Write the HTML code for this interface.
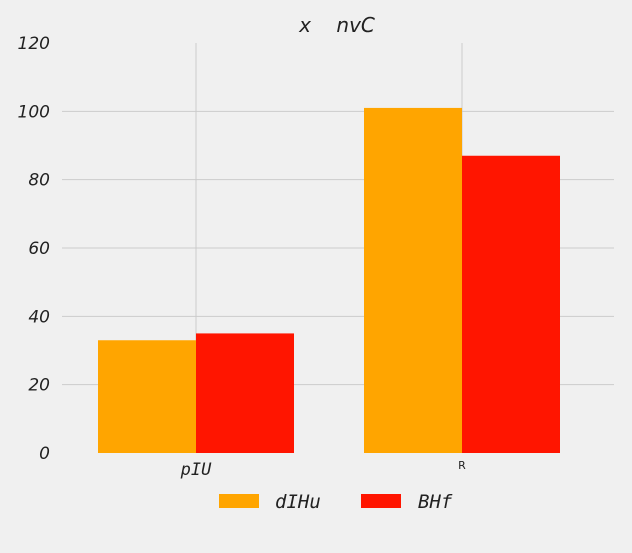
<!DOCTYPE html>
<html><head><meta charset="utf-8"><style>
body{margin:0;background:#f0f0f0;}
svg{display:block;}
</style></head><body>
<svg id="chart" width="632" height="553" xmlns="http://www.w3.org/2000/svg">
<rect width="632" height="553" fill="#f0f0f0"/>
<text x="337" y="32" text-anchor="middle" font-family="DejaVu Sans, sans-serif" font-style="italic" font-size="20" fill="#222" xml:space="preserve">x    nvC</text>
<g id="grid"></g><g id="bars"></g><g id="labels"></g>
<g>
<rect x="219" y="494" width="40" height="14" fill="#ffa500"/>
<text x="275" y="508" font-family="DejaVu Sans Mono, monospace" font-style="italic" font-size="19" fill="#222">dIHu</text>
<rect x="361" y="494" width="40" height="14" fill="#ff1500"/>
<text x="418" y="508" font-family="DejaVu Sans Mono, monospace" font-style="italic" font-size="19" fill="#222">BHf</text>
</g>
</svg>
<script>
const categories = ["pIU", "R"];
const seriesDIHu = [33, 101];
const seriesBHf = [35, 87];
const yTicks = [0, 20, 40, 60, 80, 100, 120];
const NS = "http://www.w3.org/2000/svg";
const x0 = 62, x1 = 614, yBase = 453, yTop = 43, yMax = 120;
function y(v){ return yBase - v/yMax*(yBase-yTop); }
function xc(i){ return 196 + i*266; }
const barW = 98;
function mk(tag, attrs, parent){ const e=document.createElementNS(NS,tag); for(const k in attrs) e.setAttribute(k,attrs[k]); document.getElementById(parent).appendChild(e); return e; }
yTicks.forEach((t,k)=>{
  if(k>0 && k<yTicks.length-1){
    const l = mk("line",{x1:x0,x2:x1,y1:y(t),y2:y(t),stroke:"#cbcbcb","stroke-width":1},"grid");
    
    
  }
  const tx = mk("text",{x:50,y:y(t)+6,"text-anchor":"end","font-family":"DejaVu Sans, sans-serif","font-style":"italic","font-size":"17",fill:"#222"},"labels");
  tx.textContent = t;
  
  
});
categories.forEach((c,i)=>{
  const l = mk("line",{x1:xc(i),x2:xc(i),y1:yTop,y2:yBase,stroke:"#cbcbcb","stroke-width":1},"grid");
  
  
  const a = mk("rect",{x:xc(i)-barW,y:y(seriesDIHu[i]),width:barW,height:yBase-y(seriesDIHu[i]),fill:"#ffa500"},"bars");
  
  
  const b = mk("rect",{x:xc(i),y:y(seriesBHf[i]),width:barW,height:yBase-y(seriesBHf[i]),fill:"#ff1500"},"bars");
  
  
  const small = i===1;
  const tx = mk("text",{x:xc(i),y:small?469:475,"text-anchor":"middle","font-family":small?"DejaVu Sans, sans-serif":"DejaVu Sans Mono, monospace","font-style":small?"normal":"italic","font-size":small?"11":"17",fill:"#222"},"labels");
  tx.textContent = c;
  
  
});
</script>
</body></html>
